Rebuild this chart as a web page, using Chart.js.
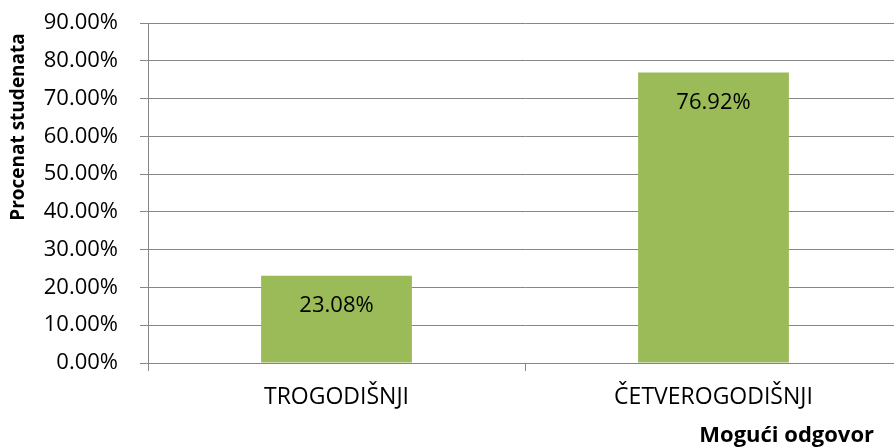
<!DOCTYPE html>
<html>
<head>
<meta charset="utf-8">
<script src="https://cdn.jsdelivr.net/npm/chart.js@4/dist/chart.umd.min.js"></script>
<style>
  html, body { margin: 0; padding: 0; background: #fff; overflow: hidden; }
  /* plot area runs a few px past the right edge in the original, so the canvas is clipped */
  #wrap { width: 894px; height: 448px; overflow: hidden; }
</style>
</head>
<body>
<div id="wrap"><canvas id="chart" width="902" height="448"></canvas></div>
<script>
// data
const categories = ['TROGODIŠNJI', 'ČETVEROGODIŠNJI'];
const percents = [23.08, 76.92];
const yTicks = [0, 10, 20, 30, 40, 50, 60, 70, 80, 90];
const yTitle = 'Procenat studenata';
const xTitle = 'Mogući odgovor';

const FONT = 'Open Sans';
const gridGray = '#868686';

// value labels inside the bars + axis titles placed like the original
const extras = {
  id: 'extras',
  afterDatasetsDraw(chart) {
    const ctx = chart.ctx;
    const meta = chart.getDatasetMeta(0);
    ctx.save();
    ctx.font = '22px "' + FONT + '"';
    ctx.fillStyle = '#000';
    ctx.textAlign = 'center';
    ctx.textBaseline = 'middle';
    meta.data.forEach((bar, i) => {
      ctx.fillText(percents[i].toFixed(2) + '%', bar.x, bar.y + 30);
    });
    ctx.restore();
  },
  afterDraw(chart) {
    const ctx = chart.ctx;
    ctx.save();
    ctx.fillStyle = '#000';
    ctx.font = 'bold 19px "' + FONT + '"';
    ctx.textAlign = 'center';
    ctx.textBaseline = 'middle';
    ctx.translate(19, 127);
    ctx.rotate(-Math.PI / 2);
    ctx.fillText(yTitle, 0, 0);
    ctx.restore();

    ctx.save();
    ctx.fillStyle = '#000';
    ctx.font = 'bold 22px "' + FONT + '"';
    ctx.textAlign = 'right';
    ctx.textBaseline = 'middle';
    ctx.fillText(xTitle, 874, 436);
    ctx.restore();
  }
};

new Chart(document.getElementById('chart'), {
  type: 'bar',
  data: {
    labels: categories,
    datasets: [{
      data: percents,
      backgroundColor: '#9BBB59',
      borderWidth: 0,
      barPercentage: 0.4,
      categoryPercentage: 1.0
    }]
  },
  options: {
    responsive: false,
    animation: false,
    layout: { padding: { top: 23, right: 0, bottom: 0, left: 0 } },
    plugins: { legend: { display: false }, tooltip: { enabled: false } },
    scales: {
      x: {
        afterFit(scale) { scale.height = 85; },
        grid: { offset: true, drawOnChartArea: false, drawTicks: true, tickLength: 8, color: gridGray },
        border: { color: gridGray },
        ticks: { color: '#000', font: { family: FONT, size: 23 }, padding: 13, maxRotation: 0 }
      },
      y: {
        min: 0, max: 90,
        afterFit(scale) {
          scale.width = 148;
          scale.paddingTop = 0;
          scale.paddingBottom = 0;
        },
        afterBuildTicks(scale) { scale.ticks = yTicks.map(v => ({ value: v })); },
        grid: { color: gridGray, tickLength: 8 },
        border: { color: gridGray },
        ticks: {
          color: '#000', font: { family: FONT, size: 22 }, padding: 22,
          callback: v => v.toFixed(2) + '%'
        }
      }
    }
  },
  plugins: [extras]
});
</script>
</body>
</html>
